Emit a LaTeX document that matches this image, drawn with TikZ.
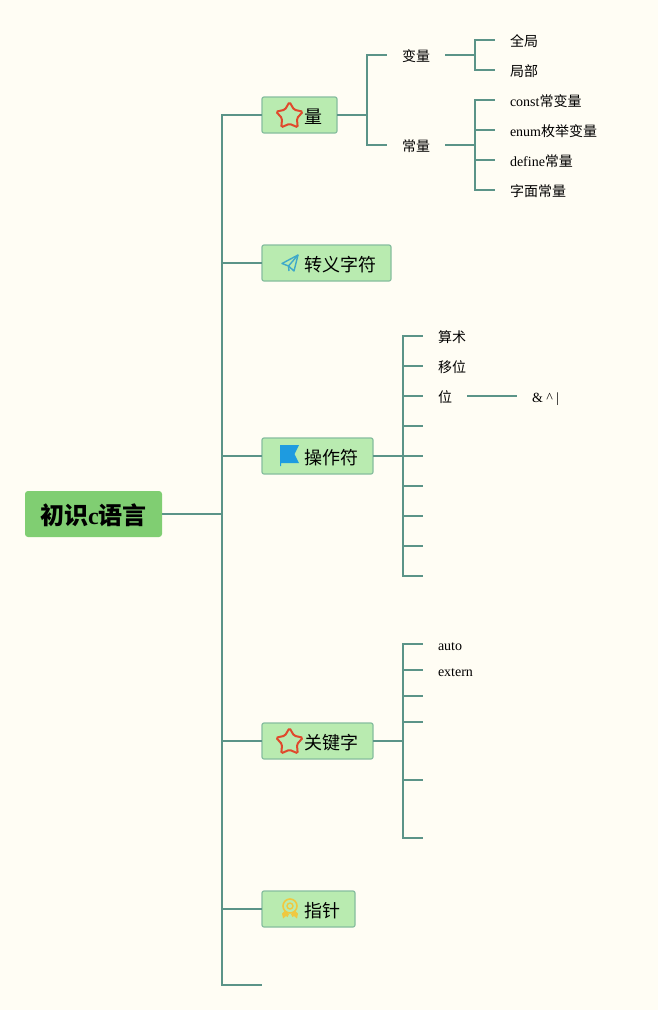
\documentclass[tikz,border=0pt]{standalone}
\usepackage{fontspec}
\setmainfont{Liberation Serif}
\newfontfamily\cjk{Noto Sans CJK SC}
\usetikzlibrary{arrows.meta, positioning, shapes.geometric}
\definecolor{paper}{HTML}{FFFDF4}
\definecolor{teal1}{HTML}{5B9488}
\definecolor{rootgreen}{HTML}{80CE72}
\definecolor{topicgreen}{HTML}{B9EBB0}
\definecolor{topicedge}{HTML}{86BE9E}
\definecolor{starred}{HTML}{E0492C}
\definecolor{flagblue}{HTML}{1E9BE0}
\definecolor{planeblue}{HTML}{3FA9C9}
\definecolor{medal}{HTML}{F0C840}

\begin{document}
\begin{tikzpicture}[
    x=1pt, y=-1pt,
    node distance=16pt,
    branch/.style={draw=teal1, line width=2pt},
    root/.style={fill=rootgreen, rounded corners=3pt, minimum width=137pt, minimum height=46pt,
        inner sep=0pt, outer sep=0pt, text height=21pt, text depth=1pt,
        font=\fontsize{24}{24}\selectfont\bfseries},
    topic/.style={anchor=west, fill=topicgreen, draw=topicedge, line width=1.2pt, rounded corners=2pt,
        minimum height=36pt, inner ysep=0pt, inner xsep=15pt, outer sep=0pt, text height=17pt, text depth=1pt,
        font=\fontsize{18}{18}\selectfont},
    leaf/.style={inner ysep=0pt, inner xsep=15pt, outer sep=0pt, text height=13pt, text depth=1pt,
        font=\fontsize{14}{14}\selectfont},
    staricon/.style={star, star points=5, star point ratio=1.8, draw=starred, line width=2pt,
        rounded corners=1.5pt, minimum size=28pt, inner sep=0pt}
]
\path[fill=paper] (0,0) rectangle (658,1010);
\useasboundingbox (0,0) rectangle (658,1010);

\node (root) [root] at (93.5,514) {{\cjk 初识}c{\cjk 语言}};

\node (quant) [topic] at (262,115) {\hspace*{27pt}{\cjk 量}};
\node (escape) [topic] at (262,263) {\hspace*{27pt}{\cjk 转义字符}};
\node (oper) [topic] at (262,456) {\hspace*{27pt}{\cjk 操作符}};
\node (keyword) [topic] at (262,741) {\hspace*{27pt}{\cjk 关键字}};
\node (pointer) [topic] at (262,909) {\hspace*{27pt}{\cjk 指针}};
\coordinate (blank) at (262,985);

% icons
\node (quantstar) [staricon] at (289.5,116) {};
\node (keystar) [staricon] at (289.5,742) {};
\fill[flagblue] (280,445) -- (299,445) -- (294.5,454) -- (299,463) -- (281,463) -- (281,466) -- (280,466) -- cycle;
\draw[planeblue, line width=1.4pt, line join=round] (298,255) -- (282,263.5) -- (288.5,266) -- (294,271) -- cycle;
\draw[planeblue, line width=1.4pt, line join=round] (298,255) -- (288.5,266) -- (289,271);
\draw[medal, line width=1.6pt] (290,906) circle (7);
\draw[medal, line width=1.4pt] (290,906) circle (3);
\fill[medal] (284.5,911) -- (289,914) -- (287.5,917) -- (286,916) -- (283,918.5) -- (282,913.5) -- cycle;
\fill[medal] (295.5,911) -- (291,914) -- (292.5,917) -- (294,916) -- (297,918.5) -- (298,913.5) -- cycle;

% level two
\node (var) [leaf, anchor=west] at (387,55) {{\cjk 变量}};
\node (const) [leaf, anchor=west] at (387,145) {{\cjk 常量}};

\node (global) [leaf, anchor=west] at (495,40) {{\cjk 全局}};
\node (local) [leaf, below=of global.south west, anchor=north west] {{\cjk 局部}};
\node (constvar) [leaf, anchor=west] at (495,100) {const{\cjk 常变量}};
\node (enumc) [leaf, below=of constvar.south west, anchor=north west] {enum{\cjk 枚举变量}};
\node (definec) [leaf, below=of enumc.south west, anchor=north west] {define{\cjk 常量}};
\node (literal) [leaf, below=of definec.south west, anchor=north west] {{\cjk 字面常量}};

\node (arith) [leaf, anchor=west] at (423,336) {{\cjk 算术}};
\node (shift) [leaf, below=of arith.south west, anchor=north west] {{\cjk 移位}};
\node (bit) [leaf, below=of shift.south west, anchor=north west] {{\cjk 位}};
\node (bitops) [leaf, anchor=west] at (517,396) {\& \^{} |};

\node (autok) [leaf, anchor=west] at (423,644) {auto};
\node (externk) [leaf, anchor=west] at (423,670) {extern};

\foreach \y [count=\i] in {426,456,486,516,546,576}
    \coordinate (opstub\i) at (423,\y);
\foreach \y [count=\i] in {696,722,780,838}
    \coordinate (keystub\i) at (423,\y);

% connectors
\foreach \t in {quant,escape,oper,keyword,pointer}
    \draw[branch] (root.east) -- ++(60,0) |- (\t.west);
\draw[branch] (root.east) -- ++(60,0) |- (blank);

\foreach \t in {var,const}
    \draw[branch] (quant.east) -- ++(30,0) |- (\t.west);
\foreach \t in {global,local}
    \draw[branch] (var.east) -- ++(30,0) |- (\t.west);
\foreach \t in {constvar,enumc,definec,literal}
    \draw[branch] (const.east) -- ++(30,0) |- (\t.west);

\foreach \t in {arith.west,shift.west,bit.west,opstub1,opstub2,opstub3,opstub4,opstub5,opstub6}
    \draw[branch] (oper.east) -- ++(30,0) |- (\t);
\draw[branch] (bit.east) -- (bitops.west);

\foreach \t in {autok.west,externk.west,keystub1,keystub2,keystub3,keystub4}
    \draw[branch] (keyword.east) -- ++(30,0) |- (\t);
\end{tikzpicture}
\end{document}
